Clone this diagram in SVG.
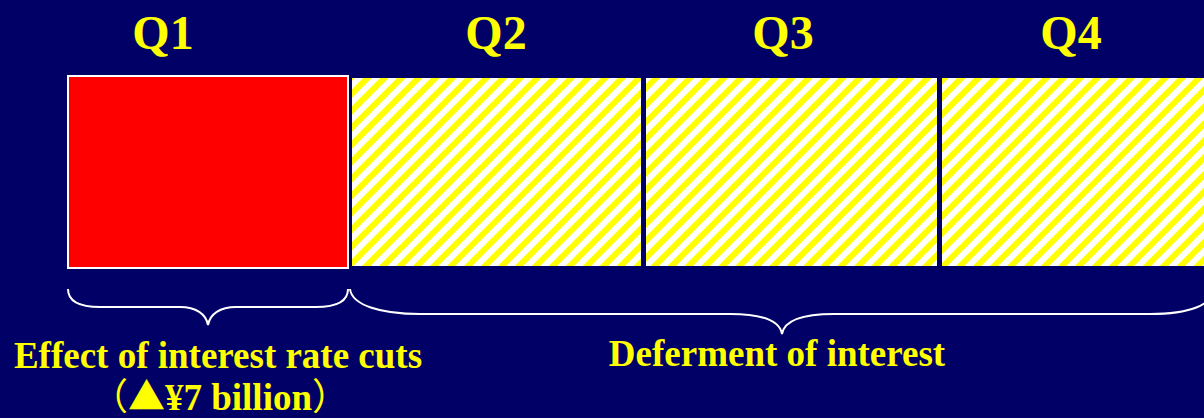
<svg xmlns="http://www.w3.org/2000/svg" width="1204" height="418" viewBox="0 0 1204 418">
<defs>
<pattern id="hatch" patternUnits="userSpaceOnUse" width="12" height="12" patternTransform="rotate(45)">
<rect x="0" y="0" width="12" height="12" fill="#ffffff"/>
<rect x="0" y="0" width="6" height="12" fill="#ffff00"/>
</pattern>
</defs>
<style>
.q{font-family:"Liberation Serif","Times New Roman",serif;font-weight:bold;font-size:48px;fill:#ffff00;text-anchor:middle}
.lbl{font-family:"Liberation Serif","Times New Roman","Noto Sans CJK JP",serif;font-weight:bold;font-size:37px;fill:#ffff00;text-anchor:middle}
.cjk{font-family:"Noto Sans CJK JP",sans-serif;font-weight:normal}
.brace{fill:none;stroke:#ffffff;stroke-width:2}
.hatch{fill:url(#hatch)}
</style>
<rect x="0" y="0" width="1204" height="418" fill="#000066"/>
<g id="q1">
<text class="q" x="163" y="49">Q1</text>
<rect x="68" y="76" width="280" height="192" fill="#ff0000" stroke="#ffffff" stroke-width="2"/>
</g>
<g id="q2">
<text class="q" x="496" y="49">Q2</text>
<rect class="hatch" x="352" y="78" width="289" height="188"/>
</g>
<g id="q3">
<text class="q" x="783" y="49">Q3</text>
<rect class="hatch" x="646" y="78" width="291" height="188"/>
</g>
<g id="q4">
<text class="q" x="1071" y="49">Q4</text>
<rect class="hatch" x="942" y="78" width="270" height="188"/>
</g>
<g id="connectors">
<path class="brace" d="M68,289 C68,300 78,307 100,307 L180,307 C196,307 206,314 208,325 C210,314 220,307 236,307 L316,307 C338,307 348,300 348,289"/>
<path class="brace" d="M350,289 C352,305 380,314 420,314 L730,314 C765,314 780,322 782,334 C784,322 799,314 834,314 L1150,314 C1190,314 1212,305 1214,289"/>
</g>
<g id="label-effect">
<text class="lbl" x="218" y="368">Effect of interest rate cuts</text>
<text class="lbl" x="220" y="410"><tspan class="cjk">（▲</tspan>¥7 billion<tspan class="cjk">）</tspan></text>
</g>
<g id="label-deferment">
<text class="lbl" x="777" y="366">Deferment of interest</text>
</g>
</svg>
